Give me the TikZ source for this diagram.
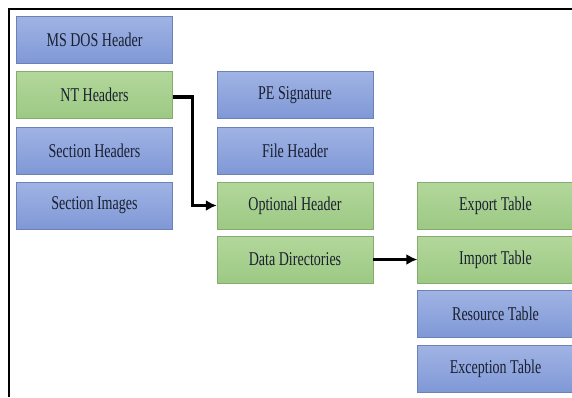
\documentclass[tikz,border=0pt]{standalone}
\usepackage{fontspec}
\setmainfont{Liberation Serif}
\usetikzlibrary{arrows.meta}
\definecolor{txt}{HTML}{1A2030}
\definecolor{bluetop}{HTML}{A0B3E4}
\definecolor{bluebot}{HTML}{7F98D6}
\definecolor{greentop}{HTML}{B3D79B}
\definecolor{greenbot}{HTML}{9CC984}
\newcommand{\sq}[1]{\scalebox{0.72}[1]{#1}}
\tikzset{
  boxbase/.style={minimum width=156pt, minimum height=47pt, inner sep=0pt,
    text=txt, font=\fontsize{19.5}{21}\selectfont},
  bluebox/.style={boxbase, top color=bluetop, bottom color=bluebot, draw=bluebot!85!black, line width=0.4pt},
  greenbox/.style={boxbase, top color=greentop, bottom color=greenbot, draw=greenbot!85!black, line width=0.4pt},
  arr/.style={line width=3.5pt, -{Latex[length=11pt,width=11pt]}}
}
\begin{document}
\begin{tikzpicture}[x=1pt,y=-1pt]
\useasboundingbox (0,0) rectangle (572,397);
\fill[white] (0,0) rectangle (572,397);
% frame
\draw[line width=2.5pt, black] (9,397) -- (9,9) -- (572,9);
% column 1
\node[bluebox]  (msdos) at (94.5,40)    {\sq{MS DOS Header}};
\node[greenbox] (nt)    at (94.5,95)    {\sq{NT Headers}};
\node[bluebox]  (sech)  at (94.5,150.5) {\sq{Section Headers}};
\node[bluebox]  (seci)  at (94.5,205.5) {\sq{Section Images}};
% column 2
\node[bluebox]  (pesig) at (295,95)    {\sq{PE Signature}};
\node[bluebox]  (fileh) at (295,150.5) {\sq{File Header}};
\node[greenbox] (opt)   at (295,205.5) {\sq{Optional Header}};
\node[greenbox] (dd)    at (295,259.5) {\sq{Data Directories}};
% column 3
\node[greenbox] (exp)   at (495.5,205.5) {\sq{Export Table}};
\node[greenbox] (imp)   at (495.5,259.5) {\sq{Import Table}};
\node[bluebox]  (res)   at (495.5,314)   {\sq{Resource Table}};
\node[bluebox]  (exc)   at (495.5,369)   {\sq{Exception Table}};
% connectors
\draw[arr] ([yshift=-2pt]nt.east) -- ++(20,0) |- (opt.west);
\draw[arr] (dd.east) -- (imp.west);
\end{tikzpicture}
\end{document}
